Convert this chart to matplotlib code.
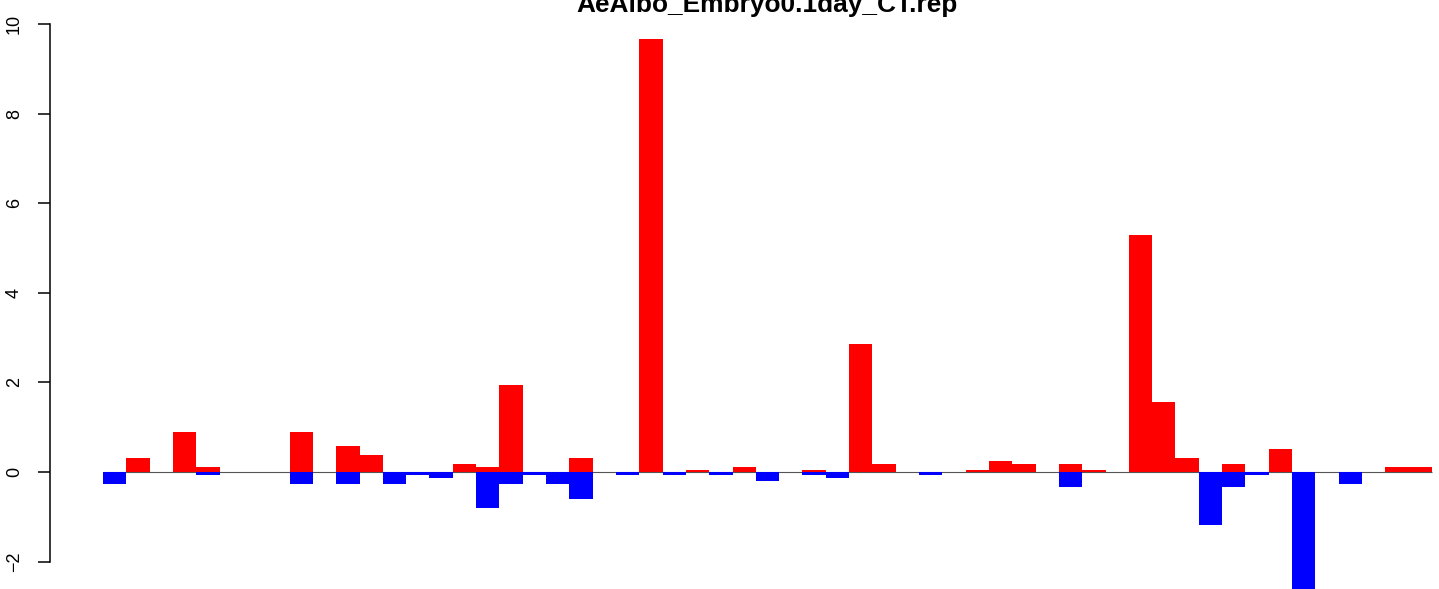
import matplotlib.pyplot as plt
import numpy as np

title = "AeAlbo_Embryo0.1day_CT.rep"

# one slot per position, red = positive part, blue = negative part
up = [0, 0.31, 0, 0.89, 0.11, 0, 0, 0, 0.89, 0,
      0.58, 0.38, 0, 0, 0, 0.18, 0.11, 1.94, 0, 0,
      0.31, 0, 0, 9.67, 0, 0.045, 0, 0.11, 0, 0,
      0.045, 0, 2.86, 0.18, 0, 0, 0, 0.045, 0.25, 0.18,
      0, 0.18, 0.045, 0, 5.29, 1.56, 0.31, 0, 0.18, 0,
      0.51, 0, 0, 0, 0, 0.11, 0.11]
down = [-0.27, 0, 0, 0, -0.07, 0, 0, 0, -0.27, 0,
        -0.27, 0, -0.27, -0.07, -0.13, 0, -0.80, -0.27, -0.07, -0.27,
        -0.60, 0, -0.07, 0, -0.07, 0, -0.07, 0, -0.20, 0,
        -0.07, -0.13, 0, 0, 0, -0.07, 0, 0, 0, 0,
        0, -0.33, 0, 0, 0, 0, 0, -1.18, -0.33, -0.07,
        0, -2.7, 0, -0.27, 0, 0, 0]
yticks = [-2, 0, 2, 4, 6, 8, 10]

plt.rcParams['font.family'] = ['Liberation Sans', 'DejaVu Sans']

n = len(up)
x = np.arange(n)

fig = plt.figure(figsize=(14.39, 5.89), dpi=100)
ax = fig.add_axes([50/1439, -0.02954, 1435/1439, 1.0268])

ax.hlines(0, 0, n, color='#555555', lw=0.8, zorder=1)
ax.bar(x, up, width=1, align='edge', color='#ff0000', linewidth=0, zorder=2)
ax.bar(x, down, width=1, align='edge', color='#0000ff', linewidth=0, zorder=2)

ax.set_xlim(-0.04*n, n*1.04)
ax.set_ylim(-3, 10.5)

for s in ['top', 'right', 'bottom']:
    ax.spines[s].set_visible(False)
ax.spines['left'].set_bounds(-2, 10)
ax.spines['left'].set_linewidth(1.1)
ax.set_xticks([])
ax.set_yticks(yticks)
ax.set_yticklabels([str(v).replace('-', '\u2212') for v in yticks],
                   rotation=90, va='center', fontsize=13)
ax.tick_params(axis='y', length=8.6, width=1.1, pad=11)

# title sits above the plot and is partly cut by the top edge
fig.text(767/1439, 1 - 12/589, title,
         ha='center', va='baseline', fontsize=18.9, fontweight='bold')

fig.savefig("out.png", dpi=100)
